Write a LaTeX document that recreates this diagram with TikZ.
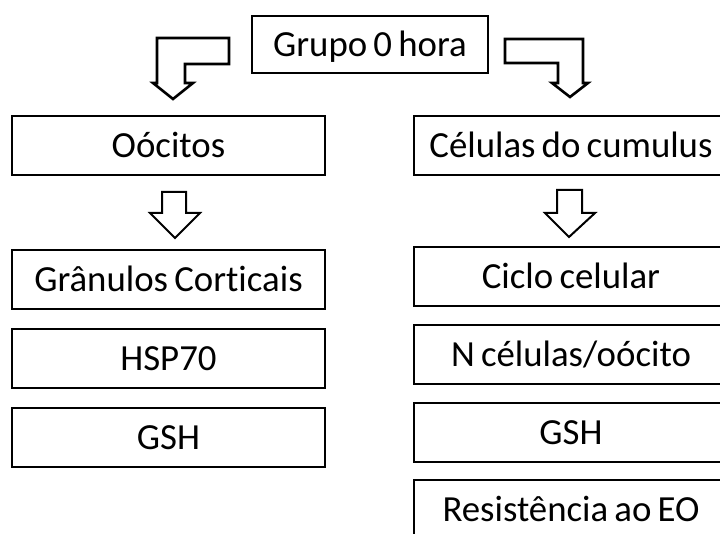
\documentclass[tikz,border=0pt]{standalone}
\usepackage{fontspec}
\setmainfont{Carlito}[Ligatures=NoCommon]
\newcommand{\myboxfont}{\fontsize{36.8}{44}\selectfont\spaceskip=0.17em plus 0.05em\relax}
\begin{document}
\begin{tikzpicture}[x=1pt,y=-1pt,
  box/.style={draw=black,line width=2pt,rectangle,inner sep=0pt,
    minimum height=59pt,text height=23.3pt,text depth=0pt,
    font=\myboxfont},
  lbox/.style={box,minimum width=313pt},
  rbox/.style={box,minimum width=314pt},
  bent/.style={draw=black,line width=2.6pt,fill=white,line join=miter},
  down/.style={draw=black,line width=2pt,fill=white,line join=miter}]
\useasboundingbox (0,0) rectangle (720,534);
\clip (0,0) rectangle (720,534);
\fill[white] (0,0) rectangle (720,534);
% top
\node[box,minimum width=236pt,minimum height=57pt] (top) at (370,44.5) {Grupo 0 hora};
% left column
\node[lbox] (ooc) at (168.5,145.5) {Oócitos};
\node[lbox] (gran) at (168.5,279.5) {Grânulos Corticais};
\node[lbox] (hsp) at (168.5,358.5) {HSP70};
\node[lbox] (gshl) at (168.5,437.5) {GSH};
% right column
\node[rbox] (cel) at (571,145.5) {Células do cumulus};
\node[rbox] (cic) at (571,276.5) {Ciclo celular};
\node[rbox] (ncel) at (571,354.5) {N células/oócito};
\node[rbox] (gshr) at (571,432.5) {GSH};
\node[rbox] (res) at (571,509.5) {Resistência ao EO};
% bent block arrows
\draw[bent] (157,38) -- (229,38) -- (229,64) -- (185,64) -- (185,83) -- (193,83)
  -- (173,99) -- (153,83) -- (157,83) -- cycle;
\draw[bent] (505,39) -- (583,39) -- (583,83) -- (588,83) -- (570,97) -- (552,83)
  -- (558,83) -- (558,63) -- (505,63) -- cycle;
% straight block arrows
\draw[down] (162,192) -- (186,192) -- (186,213) -- (200,213) -- (175,238)
  -- (150,213) -- (162,213) -- cycle;
\draw[down] (557,190) -- (582,190) -- (582,213) -- (595,213) -- (569,237)
  -- (545,213) -- (557,213) -- cycle;
\end{tikzpicture}
\end{document}
